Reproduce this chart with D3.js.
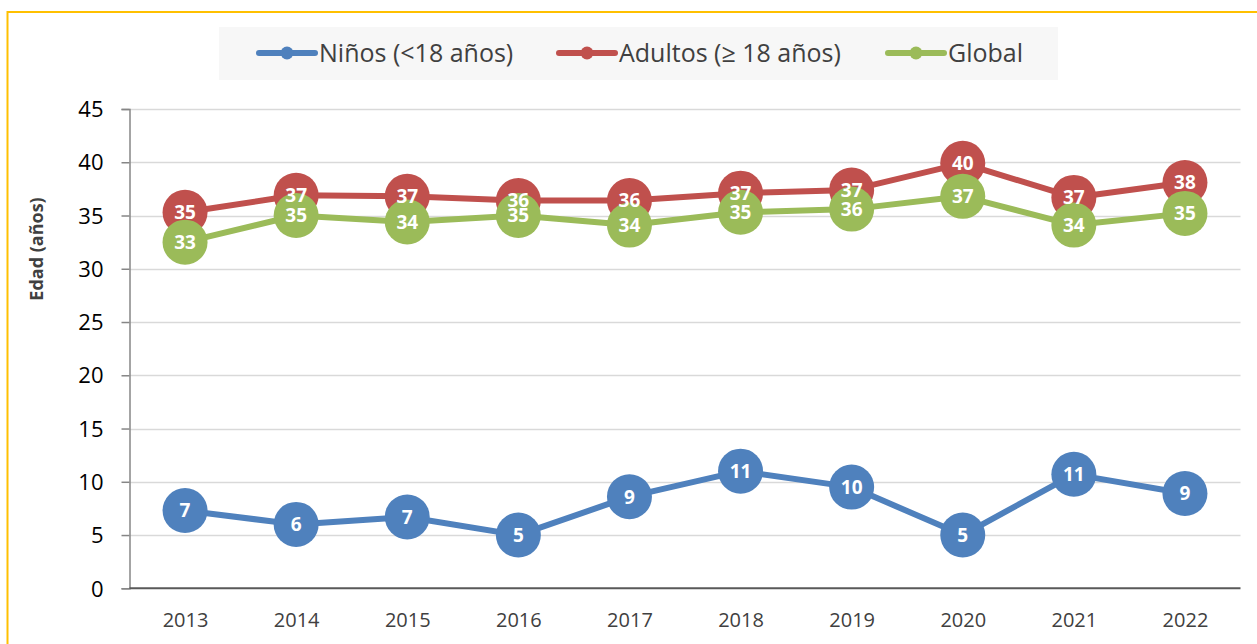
<!DOCTYPE html>
<html>
<head>
<meta charset="utf-8">
<script src="https://cdn.jsdelivr.net/npm/d3@7"></script>
<style>
  html, body { margin: 0; padding: 0; background: #ffffff; }
  svg { display: block; }
  text { font-family: "Open Sans", "Noto Sans", sans-serif; }
</style>
</head>
<body>
<svg id="chart" width="1257" height="644"></svg>
<script>
// ---- Data ----
const years = ["2013","2014","2015","2016","2017","2018","2019","2020","2021","2022"];
const ninos   = [7.3, 6.0, 6.7, 5.0, 8.6, 11.0, 9.5, 5.0, 10.7, 8.9];
const adultos = [35.3, 36.9, 36.8, 36.4, 36.4, 37.1, 37.4, 39.9, 36.7, 38.1];
const global  = [32.5, 35.0, 34.4, 35.0, 34.1, 35.3, 35.6, 36.8, 34.1, 35.2];
const seriesNames = ["Niños (<18 años)", "Adultos (≥ 18 años)", "Global"];
const yTicks = [0, 5, 10, 15, 20, 25, 30, 35, 40, 45];
const yTitle = "Edad (años)";

const colors = ["#4F81BD", "#C0504D", "#9BBB59"];
const seriesData = [ninos, adultos, global];

const svg = d3.select("#chart");

// Outer border (yellow)
svg.append("rect")
  .attr("x", 7.5).attr("y", 12).attr("width", 1400).attr("height", 800)
  .attr("fill", "none").attr("stroke", "#FFC000").attr("stroke-width", 2);

const plot = { left: 129.5, right: 1240.5, top: 109, bottom: 588.3 };

const x = d3.scalePoint().domain(years)
  .range([plot.left, plot.right]).padding(0.5);
const y = d3.scaleLinear().domain([0, 45]).range([plot.bottom, plot.top]);

// Gridlines
svg.append("g").selectAll("line").data(yTicks.filter(t => t > 0)).join("line")
  .attr("x1", plot.left).attr("x2", plot.right)
  .attr("y1", d => Math.round(y(d)) + 0.5).attr("y2", d => Math.round(y(d)) + 0.5)
  .attr("stroke", "#D9D9D9").attr("stroke-width", 1.5);

// Y axis
const yAxis = d3.axisLeft(y).tickValues(yTicks).tickSize(8).tickPadding(18);
const gy = svg.append("g").attr("transform", `translate(${plot.left},0)`).call(yAxis);
gy.select(".domain").attr("stroke", "#868686").attr("stroke-width", 1.5);
gy.selectAll(".tick line").attr("stroke", "#868686").attr("stroke-width", 1.5);
gy.selectAll(".tick text")
  .attr("fill", "#000000")
  .style("font-size", "22px")
  .attr("dy", "0.35em");

// X axis
const xAxis = d3.axisBottom(x).tickSize(0).tickPadding(25);
const gx = svg.append("g").attr("transform", `translate(0,${plot.bottom})`).call(xAxis);
gx.select(".domain").attr("stroke", "#595959").attr("stroke-width", 2)
  .attr("d", `M${plot.left},0H${plot.right}`);
gx.selectAll(".tick text")
  .attr("fill", "#404040")
  .style("font-size", "20px");

// Y axis title
svg.append("text")
  .attr("transform", "translate(43,249) rotate(-90)")
  .attr("text-anchor", "middle")
  .attr("fill", "#404040")
  .style("font-size", "18px")
  .style("font-weight", "bold")
  .text(yTitle);

// Lines and markers
const line = d3.line().x((d, i) => x(years[i])).y(d => y(d));
const R = 22.5;
seriesData.forEach((vals, si) => {
  const g = svg.append("g");
  g.append("path").datum(vals)
    .attr("d", line)
    .attr("fill", "none")
    .attr("stroke", colors[si])
    .attr("stroke-width", 6)
    .attr("stroke-linejoin", "round");
  g.selectAll("circle").data(vals).join("circle")
    .attr("cx", (d, i) => x(years[i]))
    .attr("cy", d => y(d))
    .attr("r", R)
    .attr("fill", colors[si]);
});

// Data labels (on top)
seriesData.forEach((vals, si) => {
  svg.append("g").selectAll("text").data(vals).join("text")
    .attr("x", (d, i) => x(years[i]))
    .attr("y", d => y(d))
    .attr("dy", "0.36em")
    .attr("text-anchor", "middle")
    .attr("fill", "#ffffff")
    .style("font-size", "19px")
    .style("font-weight", "bold")
    .text(d => Math.round(d));
});

// Legend
const legend = svg.append("g");
legend.append("rect")
  .attr("x", 219).attr("y", 27).attr("width", 839).attr("height", 53)
  .attr("fill", "#F7F7F7");
const legendX = [259, 559, 888];
seriesNames.forEach((name, i) => {
  const lx = legendX[i], ly = 53;
  legend.append("line")
    .attr("x1", lx).attr("x2", lx + 56)
    .attr("y1", ly).attr("y2", ly)
    .attr("stroke", colors[i]).attr("stroke-width", 6)
    .attr("stroke-linecap", "round");
  legend.append("circle")
    .attr("cx", lx + 28).attr("cy", ly).attr("r", 6.5)
    .attr("fill", colors[i]);
  legend.append("text")
    .attr("x", lx + 60).attr("y", ly)
    .attr("dy", "0.35em")
    .attr("fill", "#404040")
    .style("font-size", "25px")
    .text(name);
});
</script>
</body>
</html>
